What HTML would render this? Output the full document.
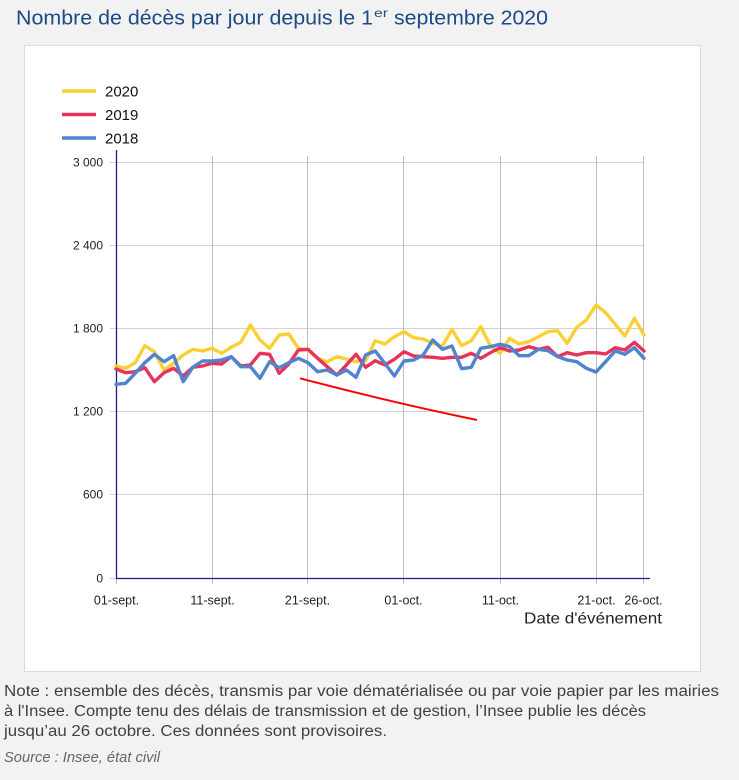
<!DOCTYPE html>
<html><head><meta charset="utf-8"><style>
html,body{margin:0;padding:0;background:#f2f2f2;}
svg{display:block;}
</style></head><body>
<svg width="739" height="780" viewBox="0 0 739 780" xmlns="http://www.w3.org/2000/svg">
<rect x="0" y="0" width="739" height="780" fill="#f2f2f2"/>
<!-- title -->
<text x="16" y="24.5" font-family="Liberation Sans, sans-serif" font-size="20" fill="#1b4a86" textLength="357" lengthAdjust="spacingAndGlyphs">Nombre de décès par jour depuis le 1</text>
<text x="374" y="17" font-family="Liberation Sans, sans-serif" font-size="12" fill="#1b4a86" textLength="14" lengthAdjust="spacingAndGlyphs">er</text>
<text x="394" y="24.5" font-family="Liberation Sans, sans-serif" font-size="20" fill="#1b4a86" textLength="154" lengthAdjust="spacingAndGlyphs">septembre 2020</text>
<!-- panel -->
<rect x="24.5" y="45.5" width="676" height="626" fill="#ffffff" stroke="#dcdcdc" stroke-width="1"/>
<!-- legend -->
<g font-family="Liberation Sans, sans-serif" font-size="15" fill="#111">
<line x1="62" y1="91" x2="96" y2="91" stroke="#fccf34" stroke-width="3.5"/>
<text x="105" y="96.5">2020</text>
<line x1="62" y1="114.5" x2="96" y2="114.5" stroke="#e7325c" stroke-width="3.5"/>
<text x="105" y="120">2019</text>
<line x1="62" y1="138" x2="96" y2="138" stroke="#4f84cf" stroke-width="3.5"/>
<text x="105" y="143.5">2018</text>
</g>
<!-- horizontal grid -->
<g stroke="#d2d2d2" stroke-width="1">
<line x1="110" y1="162.5" x2="644" y2="162.5"/>
<line x1="110" y1="245.5" x2="644" y2="245.5"/>
<line x1="110" y1="328.5" x2="644" y2="328.5"/>
<line x1="110" y1="411.5" x2="644" y2="411.5"/>
<line x1="110" y1="494.5" x2="644" y2="494.5"/>
<line x1="110" y1="578.5" x2="116" y2="578.5"/>
</g>
<!-- vertical grid -->
<g stroke="#bdbdbd" stroke-width="1">
<line x1="116.5" y1="578" x2="116.5" y2="584"/>
<line x1="212.5" y1="156" x2="212.5" y2="584"/>
<line x1="307.5" y1="156" x2="307.5" y2="584"/>
<line x1="403.5" y1="156" x2="403.5" y2="584"/>
<line x1="500.5" y1="156" x2="500.5" y2="584"/>
<line x1="596.5" y1="156" x2="596.5" y2="584"/>
<line x1="643.5" y1="156" x2="643.5" y2="584"/>
</g>
<!-- axes -->
<line x1="116.5" y1="150" x2="116.5" y2="579" stroke="#1d1d8a" stroke-width="1.3"/>
<line x1="116" y1="578.5" x2="650" y2="578.5" stroke="#1d1d8a" stroke-width="1.3"/>
<!-- y labels -->
<g font-family="Liberation Sans, sans-serif" font-size="12" fill="#222" text-anchor="end">
<text x="103" y="166.5">3 000</text>
<text x="103" y="249.5">2 400</text>
<text x="103" y="332.5">1 800</text>
<text x="103" y="415.5">1 200</text>
<text x="103" y="498.5">600</text>
<text x="103" y="582.5">0</text>
</g>
<!-- x labels -->
<g font-family="Liberation Sans, sans-serif" font-size="12.5" fill="#222" text-anchor="middle">
<text x="116.5" y="604.5">01-sept.</text>
<text x="212.5" y="604.5">11-sept.</text>
<text x="307.5" y="604.5">21-sept.</text>
<text x="403.5" y="604.5">01-oct.</text>
<text x="500.5" y="604.5">11-oct.</text>
<text x="596.5" y="604.5">21-oct.</text>
<text x="643.5" y="604.5">26-oct.</text>
</g>
<text x="524" y="623.5" font-family="Liberation Sans, sans-serif" font-size="16" fill="#222" textLength="138" lengthAdjust="spacingAndGlyphs">Date d'événement</text>
<!-- series -->
<g fill="none" stroke-width="3.4" stroke-linejoin="round" stroke-linecap="round">
<polyline stroke="#fccf34" points="116,366 125.6,368.3 135.2,362.7 144.8,345.7 154.4,351.7 164,370 173.6,363.3 183.2,355 192.8,349.3 202.4,351 212,348.3 221.6,353.3 231.2,347.3 240.8,342.3 250.4,325 260,340 269.6,348.3 279.2,335 288.8,334 298.4,348.3 308,350 317.6,358.3 327.2,361.7 336.8,356.7 346.4,359 356,361.7 365.6,360.7 375.2,340.7 384.8,344 394.4,336.7 404,331.7 413.6,337.7 423.2,339 432.8,343.3 442.4,346 452,329.3 461.6,345.7 471.2,340.7 480.8,326.7 490.4,346 500,353.3 509.6,338.3 519.2,344 528.8,341.7 538.4,336.7 548,331.7 557.6,330.7 567.2,343.3 576.8,327.3 586.4,320 596,305 605.6,312.7 615.2,324.3 624.8,336 634.4,318.3 644,335"/>
<polyline stroke="#e7325c" points="116,369 125.6,372.7 135.2,371.7 144.8,367.7 154.4,381.7 164,372.7 173.6,368.3 183.2,376 192.8,367.3 202.4,366 212,363.3 221.6,364 231.2,356.7 240.8,366 250.4,365 260,353.3 269.6,354.3 279.2,373.3 288.8,364 298.4,350 308,349.3 317.6,358.3 327.2,366.7 336.8,375 346.4,365 356,354.3 365.6,367.3 375.2,360.7 384.8,365 394.4,359.3 404,351.7 413.6,356 423.2,356.7 432.8,357.3 442.4,358.3 452,357.3 461.6,357.3 471.2,353.3 480.8,358.3 490.4,352.7 500,347.7 509.6,351 519.2,350 528.8,346.7 538.4,349.3 548,347.3 557.6,356.7 567.2,352.7 576.8,355 586.4,352.7 596,352.7 605.6,354 615.2,347.7 624.8,350 634.4,342.3 644,351"/>
<polyline stroke="#4f84cf" points="116,384.3 125.6,383.3 135.2,373.3 144.8,362.7 154.4,354.3 164,361.7 173.6,355.7 183.2,381.7 192.8,367.3 202.4,361 212,361 221.6,360 231.2,356.7 240.8,366.7 250.4,366.7 260,378.3 269.6,361.7 279.2,367.7 288.8,362.7 298.4,358.3 308,362.7 317.6,371.7 327.2,370 336.8,375 346.4,370 356,377.3 365.6,355 375.2,351 384.8,363.3 394.4,376 404,361 413.6,360 423.2,355 432.8,340 442.4,349.3 452,346 461.6,368.7 471.2,367.3 480.8,348.3 490.4,346.7 500,344.3 509.6,346.7 519.2,355.7 528.8,355.7 538.4,349.3 548,350.7 557.6,356.7 567.2,360 576.8,361.7 586.4,368.3 596,372 605.6,361.7 615.2,351 624.8,354.3 634.4,347.7 644,358.3"/>
</g>
<!-- trend line -->
<path d="M300,378.3 Q390,402 477,420" fill="none" stroke="#ff0000" stroke-width="2"/>
<!-- notes -->
<g font-family="Liberation Sans, sans-serif" font-size="15.5" fill="#404040">
<text x="4" y="696" textLength="715" lengthAdjust="spacingAndGlyphs">Note : ensemble des décès, transmis par voie dématérialisée ou par voie papier par les mairies</text>
<text x="4" y="716" textLength="642" lengthAdjust="spacingAndGlyphs">à l'Insee. Compte tenu des délais de transmission et de gestion, l’Insee publie les décès</text>
<text x="4" y="736" textLength="383" lengthAdjust="spacingAndGlyphs">jusqu’au 26 octobre. Ces données sont provisoires.</text>
</g>
<text x="4" y="762" font-family="Liberation Sans, sans-serif" font-size="14.5" font-style="italic" fill="#666" textLength="156" lengthAdjust="spacingAndGlyphs">Source : Insee, état civil</text>
</svg>
</body></html>
